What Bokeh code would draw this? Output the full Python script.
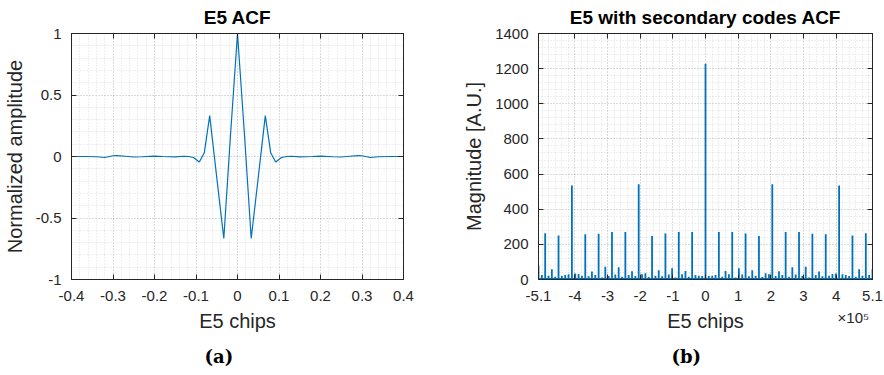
import numpy as np
from bokeh.plotting import figure
from bokeh.layouts import row
from bokeh.models import (FixedTicker, CustomJSTickFormatter, LinearAxis,
                          ColumnDataSource, Range1d, Title)
from bokeh.embed import file_html
from bokeh.resources import INLINE

# ---------------- data: (a) E5 ACF ----------------
acf_chips = [-0.400, -0.370, -0.340, -0.320, -0.300, -0.290, -0.270, -0.250, -0.230,
             -0.200, -0.180, -0.150, -0.130, -0.118, -0.106, -0.092, -0.080, -0.067,
             -0.050, -0.033, -0.017, 0.000, 0.017, 0.033, 0.050, 0.067, 0.080, 0.092,
             0.106, 0.118, 0.130, 0.150, 0.180, 0.200, 0.230, 0.250, 0.270, 0.290,
             0.300, 0.320, 0.340, 0.370, 0.400]
acf_norm = [0.000, 0.000, -0.002, -0.008, 0.006, 0.007, 0.002, -0.004, -0.002,
            0.003, 0.000, -0.003, 0.002, 0.000, -0.008, -0.045, 0.030, 0.332,
            -0.170, -0.667, 0.167, 1.000, 0.167, -0.667, -0.170, 0.332, 0.030, -0.045,
            -0.008, 0.000, 0.002, -0.003, 0.000, 0.003, -0.002, -0.004, 0.002, 0.007,
            0.006, -0.008, -0.002, 0.000, 0.000]
a_xticks = [-0.4, -0.3, -0.2, -0.1, 0, 0.1, 0.2, 0.3, 0.4]
a_xlabels = ["-0.4", "-0.3", "-0.2", "-0.1", "0", "0.1", "0.2", "0.3", "0.4"]
a_yticks = [-1, -0.5, 0, 0.5, 1]
a_ylabels = ["-1", "-0.5", "0", "0.5", "1"]

# ---------------- data: (b) E5 with secondary codes ACF ----------------
primary_code_length = 10230
lag_periods = list(range(-50, 51))
acf_mag = [77, 26, 263, 22, 58, 15, 250, 20, 25, 30,
           535, 34, 32, 22, 258, 18, 45, 26, 260, 12,
           73, 20, 271, 28, 70, 16, 271, 25, 47, 20,
           542, 30, 36, 14, 247, 22, 53, 18, 262, 28,
           64, 12, 271, 30, 48, 15, 271, 25, 22, 20,
           1228,
           20, 22, 25, 271, 15, 48, 30, 271, 12, 64,
           28, 262, 18, 53, 22, 247, 14, 36, 30, 542,
           20, 47, 25, 271, 16, 70, 28, 271, 20, 73,
           12, 260, 26, 45, 18, 258, 22, 32, 34, 535,
           30, 25, 20, 250, 15, 58, 22, 263, 26, 60]
floor_level = 6
b_xticks = [-511500, -400000, -300000, -200000, -100000, 0, 100000, 200000,
            300000, 400000, 511500]
b_xlabels = ["-5.1", "-4", "-3", "-2", "-1", "0", "1", "2", "3", "4", "5.1"]
b_yticks = [0, 200, 400, 600, 800, 1000, 1200, 1400]
b_ylabels = ["0", "200", "400", "600", "800", "1000", "1200", "1400"]
b_exponent_label = "\u00d710\u2075"
b_exponent_at = [453000]

BLUE = "#0072BD"
DARK = "#262626"
FONT = "Liberation Sans"

fmt_code = """
let best = 0; let d = Infinity;
for (let i = 0; i < vals.length; i++) {
  const e = Math.abs(vals[i] - tick);
  if (e < d) { d = e; best = i; }
}
return labs[best];
"""


def style(p, xt, xl, yt, yl, xminor, yminor, xlabel, ylabel):
    xticker = FixedTicker(ticks=xt, minor_ticks=xminor)
    yticker = FixedTicker(ticks=yt, minor_ticks=yminor)
    p.xaxis.ticker = xticker
    p.yaxis.ticker = yticker
    p.xaxis.formatter = CustomJSTickFormatter(args=dict(vals=xt, labs=xl), code=fmt_code)
    p.yaxis.formatter = CustomJSTickFormatter(args=dict(vals=yt, labs=yl), code=fmt_code)
    for ax in (p.xaxis[0], p.yaxis[0]):
        ax.major_tick_in = 5
        ax.major_tick_out = 0
        ax.minor_tick_line_color = None
        ax.axis_line_color = DARK
        ax.major_tick_line_color = DARK
        ax.major_label_text_color = DARK
        ax.major_label_text_font = FONT
        ax.major_label_text_font_size = "15px"
        ax.axis_label_text_font = FONT
        ax.axis_label_text_font_size = "20px"
        ax.axis_label_text_font_style = "normal"
        ax.axis_label_text_color = DARK
    if xlabel:
        p.xaxis.axis_label = xlabel
    p.yaxis.axis_label = ylabel
    p.xaxis.major_label_standoff = 7
    p.xaxis.axis_label_standoff = 6
    p.yaxis.major_label_standoff = 6
    p.yaxis.axis_label_standoff = 7
    # mirrored axes (box with ticks, no labels)
    blank = CustomJSTickFormatter(code="return ''")
    top = LinearAxis(ticker=xticker, formatter=blank, major_label_standoff=0,
                     major_tick_in=5, major_tick_out=0,
                     minor_tick_line_color=None, axis_line_color=DARK,
                     major_tick_line_color=DARK)
    right = LinearAxis(ticker=yticker, formatter=blank, major_label_standoff=0,
                       major_tick_in=5, major_tick_out=0,
                       minor_tick_line_color=None, axis_line_color=DARK,
                       major_tick_line_color=DARK)
    p.add_layout(top, "above")
    p.add_layout(right, "right")
    for g in (p.xgrid[0], p.ygrid[0]):
        g.grid_line_color = DARK
        g.grid_line_alpha = 0.2
        g.grid_line_dash = "1 2"
        g.minor_grid_line_color = DARK
        g.minor_grid_line_alpha = 0.15
        g.minor_grid_line_dash = "1 2"
    p.outline_line_color = DARK
    p.title.text_font = FONT
    p.title.text_font_size = "19px"
    p.title.text_font_style = "bold"
    p.title.text_color = "#000000"
    p.title.align = "center"
    p.title.standoff = 4
    p.background_fill_color = "white"
    p.border_fill_color = "white"


def caption(p, text, offset, standoff):
    t = Title(text=text, align="left", offset=offset, standoff=standoff,
              text_font="DejaVu Serif", text_font_style="bold",
              text_font_size="18px", text_color="#000000")
    p.add_layout(t, "below")


# ---------------- figure (a) ----------------
pa = figure(width=442, height=375, output_backend="svg", toolbar_location=None,
            x_range=Range1d(-0.4, 0.4), y_range=Range1d(-1, 1),
            min_border_left=67, min_border_right=39, min_border_top=33,
            min_border_bottom=96, title="E5 ACF")
a_xminor = [round(v, 3) for v in np.arange(-0.4, 0.4001, 0.02)]
a_yminor = [round(v, 3) for v in np.arange(-1, 1.0001, 0.1)]
style(pa, a_xticks, a_xlabels, a_yticks, a_ylabels, a_xminor, a_yminor,
      "E5 chips", "Normalized amplitude")
pa.line(acf_chips, acf_norm, line_color=BLUE, line_width=1.2)
caption(pa, "(a)", 133, 18)

# ---------------- figure (b) ----------------
pb = figure(width=442, height=375, output_backend="svg", toolbar_location=None,
            x_range=Range1d(-511500, 511500), y_range=Range1d(0, 1400),
            min_border_left=96, min_border_right=12, min_border_top=33,
            min_border_bottom=93, title="E5 with secondary codes ACF")
b_xminor = [int(v) for v in np.arange(-500000, 500001, 20000)]
b_yminor = [int(v) for v in np.arange(0, 1401, 40)]
style(pb, b_xticks, b_xlabels, b_yticks, b_ylabels, b_xminor, b_yminor,
      None, "Magnitude [A.U.]")
# second bottom axis: carries the "E5 chips" label and the x10^5 exponent on one line
exp_axis = LinearAxis(ticker=FixedTicker(ticks=b_exponent_at),
                      formatter=CustomJSTickFormatter(args=dict(lab=b_exponent_label),
                                                      code="return lab"),
                      major_tick_in=0, major_tick_out=0, major_tick_line_color=None,
                      minor_tick_line_color=None, axis_line_color=None,
                      major_label_standoff=5, major_label_text_font=FONT,
                      major_label_text_font_size="15px", major_label_text_color=DARK,
                      axis_label="E5 chips", axis_label_standoff=-19,
                      axis_label_text_font=FONT, axis_label_text_font_size="20px",
                      axis_label_text_font_style="normal", axis_label_text_color=DARK)
pb.add_layout(exp_axis, "below")
lags = [k * primary_code_length for k in lag_periods]
src = ColumnDataSource(dict(x=lags, y0=[0] * len(lags), y1=acf_mag))
pb.quad(left=[min(lags)], right=[max(lags)], bottom=[0], top=[floor_level],
        fill_color=BLUE, line_color=BLUE, line_width=1)
pb.segment(x0="x", y0="y0", x1="x", y1="y1", source=src, line_color=BLUE,
           line_width=1.8)
caption(pb, "(b)", 133, 18)

layout = row(pa, pb)
open("out.html", "w").write(file_html(layout, INLINE))
